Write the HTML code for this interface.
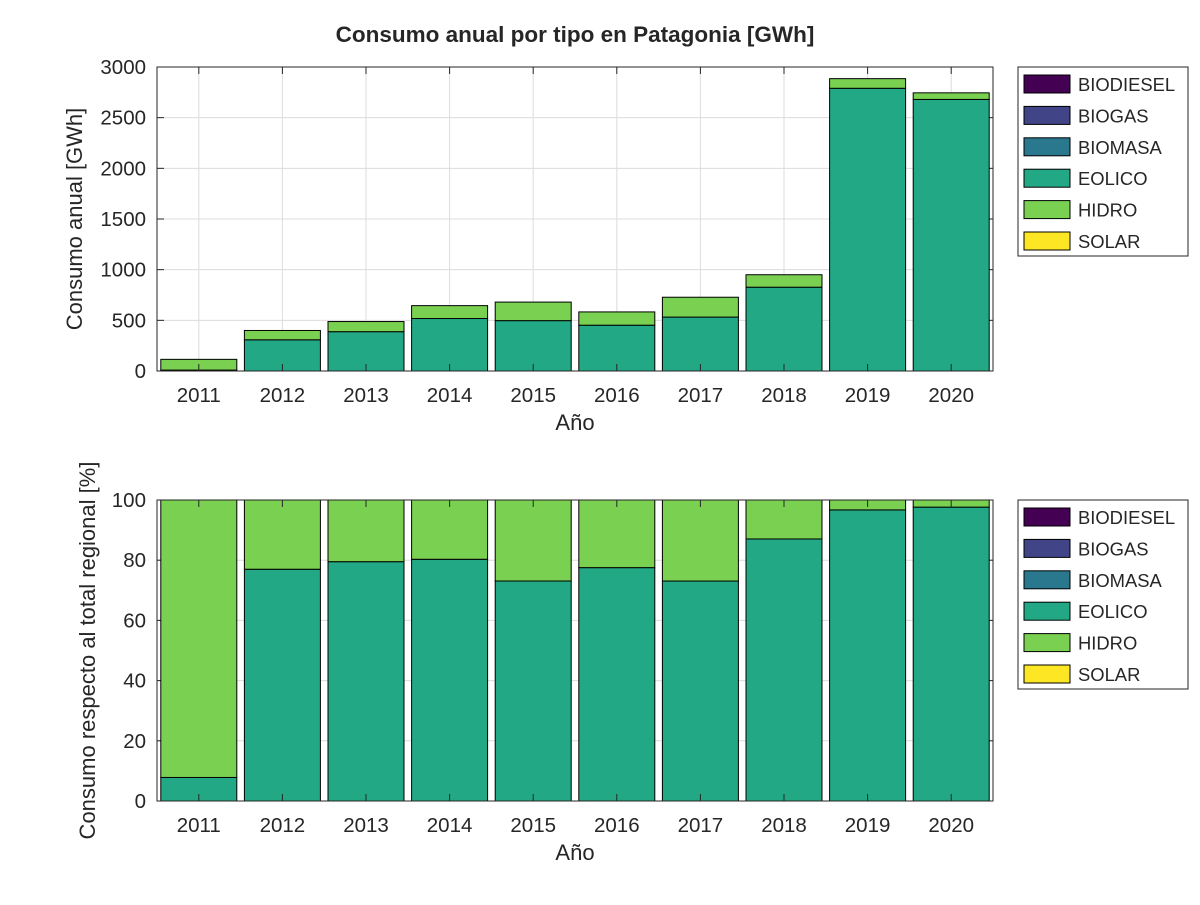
<!DOCTYPE html>
<html><head><meta charset="utf-8"><style>
body{margin:0;background:#fff;font-family:"Liberation Sans",sans-serif;}
svg text{font-family:"Liberation Sans",sans-serif;fill:#262626;}
</style></head><body>
<svg id="chart" width="1200" height="900" xmlns="http://www.w3.org/2000/svg">
<rect width="1200" height="900" fill="#fff"/>
<text x="575" y="42" font-size="22.5" font-weight="bold" text-anchor="middle" fill="#000">Consumo anual por tipo en Patagonia [GWh]</text>
<g id="top"></g><g id="bot"></g>
</svg>
<script>
const years=["2011","2012","2013","2014","2015","2016","2017","2018","2019","2020"];
const eolico=[9,308,388,518,497,452,532,827,2790,2680];
const hidro=[106,92,100,127,183,131,196,123,95,65];
const series=["BIODIESEL","BIOGAS","BIOMASA","EOLICO","HIDRO","SOLAR"];
const colors=["#440154","#414487","#2a788e","#22a884","#7ad151","#fde725"];
const topTicks=[0,500,1000,1500,2000,2500,3000];
const botTicks=[0,20,40,60,80,100];
const NS="http://www.w3.org/2000/svg";
function mk(p,t,a){const e=document.createElementNS(NS,t);for(const k in a)e.setAttribute(k,a[k]);p.appendChild(e);return e;}
function panel(g,top,bottom,ymax,ticks,vals,ylabel,pfx){
 const L=157,R=993;
 const x=i=>L+(i+0.5)*(R-L)/years.length;
 const y=v=>bottom-(v/ymax)*(bottom-top);
 const bw=76;
 ticks.forEach(t=>{
  const l=mk(g,"line",{x1:L,x2:R,y1:y(t),y2:y(t),stroke:"#dcdcdc","stroke-width":1});
  
  mk(g,"line",{x1:L,x2:L+7,y1:y(t),y2:y(t),stroke:"#262626"});
  mk(g,"line",{x1:R,x2:R-7,y1:y(t),y2:y(t),stroke:"#262626"});
  const tx=mk(g,"text",{x:L-11,y:y(t)+7,"font-size":20.5,"text-anchor":"end"});tx.textContent=t;
  
 });
 years.forEach((yr,i)=>{
  const l=mk(g,"line",{x1:x(i),x2:x(i),y1:top,y2:bottom,stroke:"#dcdcdc"});
  
 });
 years.forEach((yr,i)=>{
  const tot=eolico[i]+hidro[i];
  const e=vals(eolico[i],tot),h=vals(hidro[i],tot);
  const b1=mk(g,"rect",{x:x(i)-bw/2,y:y(e),width:bw,height:bottom-y(e),fill:colors[3],stroke:"#000","stroke-width":1});
  
  const b2=mk(g,"rect",{x:x(i)-bw/2,y:y(e+h),width:bw,height:y(e)-y(e+h),fill:colors[4],stroke:"#000","stroke-width":1});
  
  mk(g,"line",{x1:x(i),x2:x(i),y1:bottom,y2:bottom-7,stroke:"#262626"});
  mk(g,"line",{x1:x(i),x2:x(i),y1:top,y2:top+7,stroke:"#262626"});
  const tx=mk(g,"text",{x:x(i),y:bottom+31,"font-size":20.5,"text-anchor":"middle"});tx.textContent=yr;
  
 });
 const ax=mk(g,"rect",{x:L,y:top,width:R-L,height:bottom-top,fill:"none",stroke:"#262626","stroke-width":1});
 
 const xl=mk(g,"text",{x:575,y:bottom+59,"font-size":22,"text-anchor":"middle"});xl.textContent="Año";
 
 const cy=(top+bottom)/2;
 const yl=mk(g,"text",{x:0,y:0,"font-size":22,"text-anchor":"middle",transform:`translate(${pfx==='top'?82:95},${cy}) rotate(-90)`});yl.textContent=ylabel;
 
 const lg=mk(g,"g",{});
 
 mk(lg,"rect",{x:1018,y:top,width:170,height:189,fill:"#fff",stroke:"#262626"});
 series.forEach((s,k)=>{
  const ry=top+17+k*31.4;
  const it=mk(lg,"g",{});
  
  mk(it,"rect",{x:1024,y:ry-9,width:46,height:18,fill:colors[k],stroke:"#000"});
  const t=mk(it,"text",{x:1078,y:ry+7,"font-size":18.4});t.textContent=s;
 });
}
panel(document.getElementById("top"),67,371,3000,topTicks,(v,t)=>v,"Consumo anual [GWh]","top");
panel(document.getElementById("bot"),500,801,100,botTicks,(v,t)=>v/t*100,"Consumo respecto al total regional [%]","bot");
</script>
</body></html>
